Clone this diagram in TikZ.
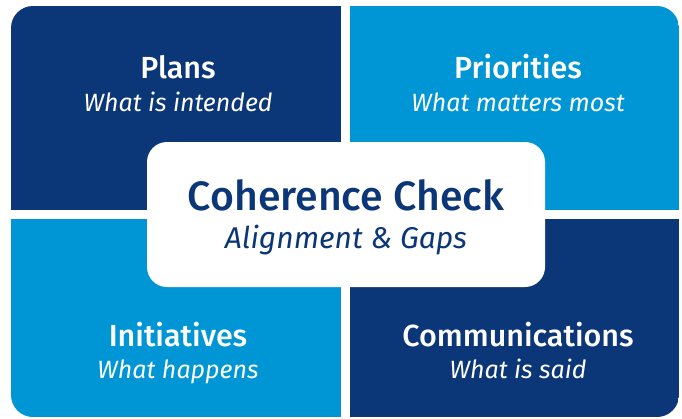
\documentclass[tikz,border=0pt]{standalone}
\usepackage{fontspec}
\setmainfont{Fira Sans}
\IfFontExistsTF{Fira Sans Medium}{\newfontfamily\heavy{Fira Sans Medium}}{\newfontfamily\heavy{Fira Sans}[FakeBold=1.5]}
\definecolor{navy}{HTML}{0B3677}
\definecolor{sky}{HTML}{0096D6}

\begin{document}
\begin{tikzpicture}[x=1pt,y=-1pt,
	title/.style={anchor=base,inner sep=0pt,text=white,font=\heavy\fontsize{30.5}{31}\selectfont},
	sub/.style={anchor=base,inner sep=0pt,text=white,font=\fontsize{25}{25}\selectfont\itshape}]
	\useasboundingbox (0,0) rectangle (682,418);
	\begin{scope}
		\clip[rounded corners=22pt] (11,6) rectangle (679,417);
		\fill[navy] (11,6) rectangle (341,210);
		\fill[sky] (350,6) rectangle (679,210);
		\fill[sky] (11,219) rectangle (341,417);
		\fill[navy] (350,219) rectangle (679,417);
	\end{scope}
	\fill[white,rounded corners=20pt] (147,142) rectangle (545,287);
	\node[title] (plans) at (178,78) {Plans};
	\node[sub] (plansub) at (178,111) {What is intended};
	\node[title] (prio) at (518,78) {Priorities};
	\node[sub] (priosub) at (518,111) {What matters most};
	\node[title] (init) at (178,346) {Initiatives};
	\node[sub] (initsub) at (178,378) {What happens};
	\node[title] (comm) at (518,346) {Communications};
	\node[sub] (commsub) at (518,378) {What is said};
	\node[anchor=base,inner sep=0pt,text=navy,font=\heavy\fontsize{41}{41}\selectfont] (check) at (346,210) {Coherence Check};
	\node[anchor=base,inner sep=0pt,text=navy,font=\fontsize{30}{30}\selectfont\itshape] (checksub) at (346,248) {Alignment \& Gaps};
\end{tikzpicture}
\end{document}
